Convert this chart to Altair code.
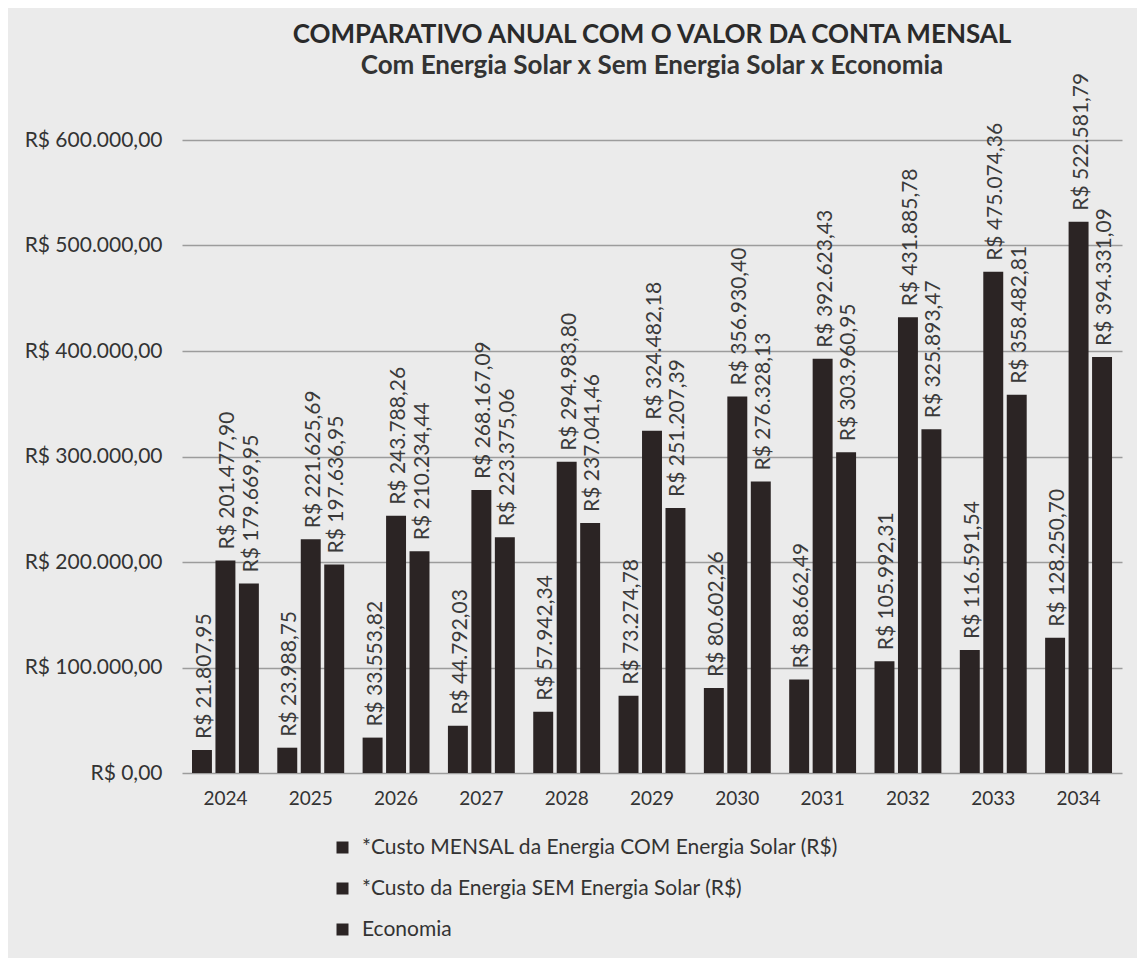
import altair as alt
import pandas as pd

anos = [str(a) for a in range(2024, 2035)]
series = [
    "*Custo MENSAL da Energia COM Energia Solar (R$)",
    "*Custo da Energia SEM Energia Solar (R$)",
    "Economia",
]
com_solar = [21807.95, 23988.75, 33553.82, 44792.03, 57942.34, 73274.78,
             80602.26, 88662.49, 105992.31, 116591.54, 128250.70]
sem_solar = [201477.90, 221625.69, 243788.26, 268167.09, 294983.80, 324482.18,
             356930.40, 392623.43, 431885.78, 475074.36, 522581.79]
economia = [179669.95, 197636.95, 210234.44, 223375.06, 237041.46, 251207.39,
            276328.13, 303960.95, 325893.47, 358482.81, 394331.09]
y_ticks = [0, 100000, 200000, 300000, 400000, 500000, 600000]


def brl(v):
    s = f"{v:,.2f}"
    s = s.replace(",", "#").replace(".", ",").replace("#", ".")
    return "R$ " + s


rows = []
for serie, vals in zip(series, [com_solar, sem_solar, economia]):
    for ano, v in zip(anos, vals):
        rows.append({"ano": ano, "serie": serie, "valor": v, "rotulo": brl(v)})
df = pd.DataFrame(rows)

FONT = "Lato"
BAR = "#2b2424"
TXT = "#333333"

base = alt.Chart(df).encode(
    x=alt.X(
        "ano:N",
        sort=anos,
        scale=alt.Scale(paddingInner=0.216, paddingOuter=0.117),
        axis=alt.Axis(title=None, labelAngle=0, ticks=False, domain=False,
                      labelFontSize=19, labelPadding=16, labelColor=TXT, labelFont=FONT),
    ),
    xOffset=alt.XOffset("serie:N", sort=series,
                        scale=alt.Scale(paddingInner=0.15, paddingOuter=0)),
    y=alt.Y(
        "valor:Q",
        scale=alt.Scale(domain=[0, 600000], nice=False),
        axis=alt.Axis(
            title=None, values=y_ticks, ticks=False, domain=False,
            labelExpr="datum.value == 0 ? 'R$ 0,00' : 'R$ ' + format(datum.value / 1000, 'd') + '.000,00'",
            labelFontSize=21, labelPadding=20, labelColor=TXT, labelFont=FONT,
            gridColor="#9c9c9c", gridWidth=1.5,
        ),
    ),
)

bars = base.mark_bar().encode(
    color=alt.Color(
        "serie:N",
        sort=series,
        scale=alt.Scale(domain=series, range=[BAR, BAR, BAR]),
        legend=alt.Legend(
            title=None, orient="none", legendX=150, legendY=697,
            direction="vertical", symbolType="square", symbolSize=144,
            symbolStrokeWidth=0, labelFontSize=21, labelColor=TXT, labelFont=FONT,
            labelOffset=9, rowPadding=19, padding=0, labelLimit=900,
        ),
    )
)

labels = base.mark_text(
    angle=270, align="left", baseline="middle", dx=11, dy=3,
    fontSize=21, font=FONT, color="#3a3a3a",
).encode(text="rotulo:N")

chart = alt.layer(bars, labels).properties(
    width=940,
    height=633,
    title=alt.TitleParams(
        text="COMPARATIVO ANUAL COM O VALOR DA CONTA MENSAL",
        subtitle="Com Energia Solar x Sem Energia Solar x Economia",
        fontSize=26, subtitleFontSize=26, fontWeight="bold", subtitleFontWeight="bold",
        font=FONT, subtitleFont=FONT, color="#2a2a2a", subtitleColor="#333333",
        anchor="middle", offset=0, dy=6, subtitlePadding=5,
    ),
    padding={"left": 174, "top": 132, "right": 15, "bottom": 185},
    autosize=alt.AutoSizeParams(type="none"),
).configure(
    background="#ebebeb",
).configure_view(stroke=None)

chart.save("out.html", embed_options={"renderer": "svg", "actions": False})
